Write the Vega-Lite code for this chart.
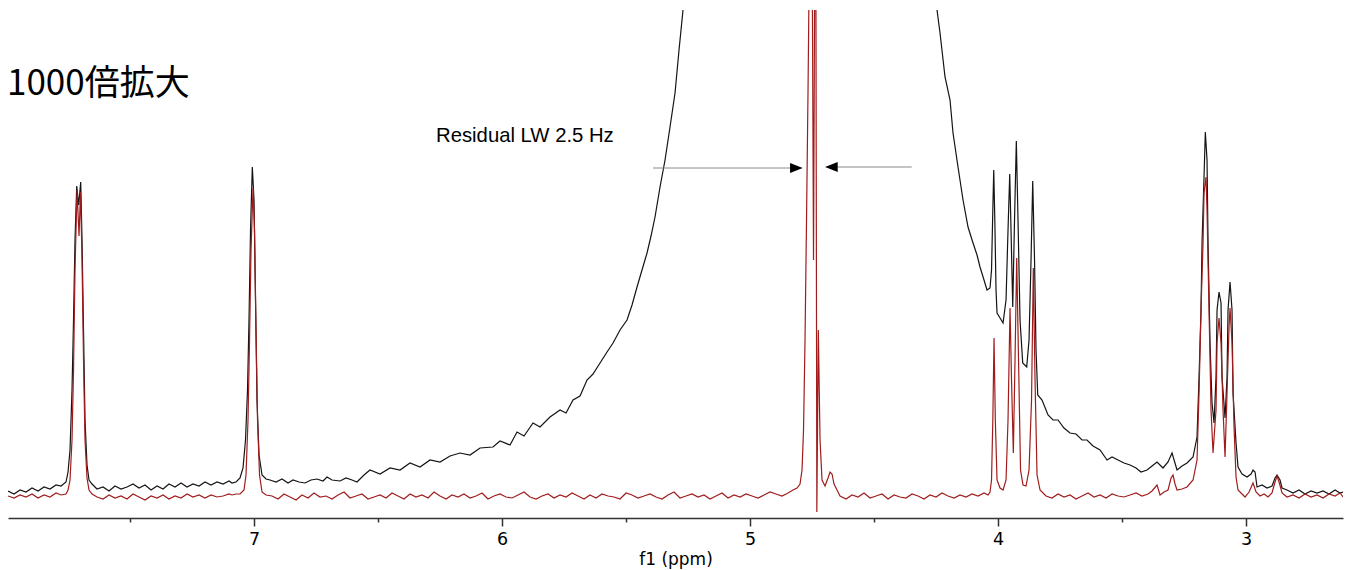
{
"$schema": "https://vega.github.io/schema/vega-lite/v6.json",
"width": 1335, "height": 508,
"autosize": {"type": "none"},
"padding": {"left": 8, "top": 10, "right": 8, "bottom": 52},
"config": {"view": {"stroke": null}, "axis": {"grid": false}},
"datasets": {
"spec": [
{"s":"k","x":7.9919,"y":27},{"s":"k","x":7.9677,"y":24},{"s":"k","x":7.9435,"y":28},{"s":"k","x":7.9194,"y":26},{"s":"k","x":7.8952,"y":30},{"s":"k","x":7.8710,"y":27},{"s":"k","x":7.8468,"y":31},{"s":"k","x":7.8226,"y":29},{"s":"k","x":7.7984,"y":33},{"s":"k","x":7.7782,"y":32},
{"s":"k","x":7.7581,"y":36},{"s":"k","x":7.7500,"y":46},{"s":"k","x":7.7419,"y":68},{"s":"k","x":7.7339,"y":128},{"s":"k","x":7.7278,"y":198},{"s":"k","x":7.7218,"y":278},{"s":"k","x":7.7149,"y":332},{"s":"k","x":7.7069,"y":313},{"s":"k","x":7.6988,"y":336},{"s":"k","x":7.6935,"y":278},{"s":"k","x":7.6875,"y":188},{"s":"k","x":7.6815,"y":98},{"s":"k","x":7.6734,"y":53},{"s":"k","x":7.6653,"y":38},{"s":"k","x":7.6532,"y":34},
{"s":"k","x":7.6331,"y":29},{"s":"k","x":7.6089,"y":31},{"s":"k","x":7.5847,"y":27},{"s":"k","x":7.5605,"y":32},{"s":"k","x":7.5363,"y":29},{"s":"k","x":7.5121,"y":31},{"s":"k","x":7.4879,"y":34},{"s":"k","x":7.4637,"y":30},{"s":"k","x":7.4395,"y":33},{"s":"k","x":7.4153,"y":28},{"s":"k","x":7.3911,"y":32},{"s":"k","x":7.3669,"y":29},{"s":"k","x":7.3427,"y":34},{"s":"k","x":7.3185,"y":31},{"s":"k","x":7.2944,"y":35},{"s":"k","x":7.2702,"y":31},{"s":"k","x":7.2460,"y":34},{"s":"k","x":7.2218,"y":32},{"s":"k","x":7.1976,"y":36},{"s":"k","x":7.1734,"y":33},{"s":"k","x":7.1492,"y":36},{"s":"k","x":7.1250,"y":34},{"s":"k","x":7.1008,"y":37},{"s":"k","x":7.0887,"y":35},
{"s":"k","x":7.0726,"y":36},{"s":"k","x":7.0565,"y":40},{"s":"k","x":7.0444,"y":50},{"s":"k","x":7.0343,"y":78},{"s":"k","x":7.0262,"y":128},{"s":"k","x":7.0202,"y":198},{"s":"k","x":7.0141,"y":288},{"s":"k","x":7.0069,"y":351},{"s":"k","x":7.0000,"y":318},{"s":"k","x":6.9940,"y":218},{"s":"k","x":6.9879,"y":118},{"s":"k","x":6.9798,"y":63},{"s":"k","x":6.9677,"y":43},{"s":"k","x":6.9516,"y":39},
{"s":"k","x":6.9355,"y":38},{"s":"k","x":6.9113,"y":36},{"s":"k","x":6.8871,"y":39},{"s":"k","x":6.8629,"y":35},{"s":"k","x":6.8427,"y":38},{"s":"k","x":6.8185,"y":36},{"s":"k","x":6.7944,"y":35},{"s":"k","x":6.7702,"y":38},{"s":"k","x":6.7460,"y":39},{"s":"k","x":6.7218,"y":37},{"s":"k","x":6.7056,"y":41},{"s":"k","x":6.6855,"y":38},{"s":"k","x":6.6532,"y":37},{"s":"k","x":6.6290,"y":40},{"s":"k","x":6.6048,"y":38},{"s":"k","x":6.5847,"y":36},{"s":"k","x":6.5565,"y":43},{"s":"k","x":6.5323,"y":48},{"s":"k","x":6.4919,"y":44},{"s":"k","x":6.4516,"y":50},{"s":"k","x":6.4113,"y":48},{"s":"k","x":6.3710,"y":55},{"s":"k","x":6.3306,"y":51},{"s":"k","x":6.2903,"y":58},{"s":"k","x":6.2500,"y":56},{"s":"k","x":6.2097,"y":62},{"s":"k","x":6.1694,"y":65},{"s":"k","x":6.1290,"y":63},{"s":"k","x":6.0887,"y":70},{"s":"k","x":6.0363,"y":71},{"s":"k","x":6.0081,"y":77},{"s":"k","x":5.9677,"y":73},{"s":"k","x":5.9395,"y":86},{"s":"k","x":5.9113,"y":82},{"s":"k","x":5.8750,"y":95},{"s":"k","x":5.8468,"y":91},{"s":"k","x":5.8065,"y":101},{"s":"k","x":5.7661,"y":108},{"s":"k","x":5.7419,"y":105},{"s":"k","x":5.7137,"y":118},{"s":"k","x":5.6855,"y":122},{"s":"k","x":5.6573,"y":138},{"s":"k","x":5.6331,"y":144},{"s":"k","x":5.6048,"y":155},{"s":"k","x":5.5766,"y":166},{"s":"k","x":5.5524,"y":175},{"s":"k","x":5.5242,"y":188},{"s":"k","x":5.4960,"y":198},{"s":"k","x":5.4758,"y":213},{"s":"k","x":5.4556,"y":231},{"s":"k","x":5.4355,"y":248},{"s":"k","x":5.4153,"y":265},{"s":"k","x":5.3992,"y":282},{"s":"k","x":5.3831,"y":301},{"s":"k","x":5.3629,"y":331},{"s":"k","x":5.3427,"y":358},{"s":"k","x":5.3226,"y":391},{"s":"k","x":5.3024,"y":425},{"s":"k","x":5.2863,"y":468},{"s":"k","x":5.2702,"y":508},{"s":"k","x":5.2500,"y":558},{"s":"k","x":5.2016,"y":818},{"s":"k","x":4.7581,"y":5000},{"s":"k","x":4.2944,"y":818},{"s":"k","x":4.2540,"y":538},{"s":"k","x":4.2460,"y":508},{"s":"k","x":4.2339,"y":485},{"s":"k","x":4.2137,"y":441},{"s":"k","x":4.1935,"y":418},{"s":"k","x":4.1815,"y":385},{"s":"k","x":4.1613,"y":351},{"s":"k","x":4.1411,"y":318},{"s":"k","x":4.1210,"y":291},{"s":"k","x":4.1008,"y":275},{"s":"k","x":4.0847,"y":263},{"s":"k","x":4.0726,"y":251},{"s":"k","x":4.0565,"y":238},{"s":"k","x":4.0444,"y":228},{"s":"k","x":4.0323,"y":230},{"s":"k","x":4.0262,"y":248},{"s":"k","x":4.0210,"y":308},{"s":"k","x":4.0173,"y":348},{"s":"k","x":4.0129,"y":298},{"s":"k","x":4.0081,"y":228},{"s":"k","x":4.0040,"y":205},{"s":"k","x":3.9919,"y":200},{"s":"k","x":3.9798,"y":195},{"s":"k","x":3.9677,"y":218},{"s":"k","x":3.9597,"y":288},{"s":"k","x":3.9528,"y":344},{"s":"k","x":3.9476,"y":288},{"s":"k","x":3.9407,"y":211},{"s":"k","x":3.9335,"y":298},{"s":"k","x":3.9262,"y":377},{"s":"k","x":3.9194,"y":298},{"s":"k","x":3.9113,"y":198},{"s":"k","x":3.9004,"y":155},{"s":"k","x":3.8843,"y":151},{"s":"k","x":3.8750,"y":178},{"s":"k","x":3.8669,"y":258},{"s":"k","x":3.8601,"y":337},{"s":"k","x":3.8528,"y":258},{"s":"k","x":3.8468,"y":168},{"s":"k","x":3.8399,"y":123},{"s":"k","x":3.8226,"y":118},{"s":"k","x":3.7984,"y":103},{"s":"k","x":3.7782,"y":98},{"s":"k","x":3.7581,"y":98},{"s":"k","x":3.7339,"y":90},{"s":"k","x":3.7097,"y":85},{"s":"k","x":3.6855,"y":84},{"s":"k","x":3.6613,"y":78},{"s":"k","x":3.6411,"y":78},{"s":"k","x":3.6169,"y":72},{"s":"k","x":3.5887,"y":68},{"s":"k","x":3.5605,"y":58},{"s":"k","x":3.5403,"y":61},{"s":"k","x":3.5161,"y":58},{"s":"k","x":3.4919,"y":55},{"s":"k","x":3.4677,"y":53},{"s":"k","x":3.4435,"y":50},{"s":"k","x":3.4234,"y":46},{"s":"k","x":3.3992,"y":48},{"s":"k","x":3.3790,"y":52},{"s":"k","x":3.3589,"y":56},{"s":"k","x":3.3347,"y":50},{"s":"k","x":3.3145,"y":56},{"s":"k","x":3.2984,"y":65},{"s":"k","x":3.2782,"y":48},{"s":"k","x":3.2581,"y":52},{"s":"k","x":3.2379,"y":55},{"s":"k","x":3.2137,"y":61},{"s":"k","x":3.1976,"y":81},{"s":"k","x":3.1895,"y":141},{"s":"k","x":3.1815,"y":208},{"s":"k","x":3.1774,"y":275},{"s":"k","x":3.1694,"y":341},{"s":"k","x":3.1641,"y":386},{"s":"k","x":3.1573,"y":358},{"s":"k","x":3.1532,"y":275},{"s":"k","x":3.1452,"y":175},{"s":"k","x":3.1371,"y":115},{"s":"k","x":3.1290,"y":95},{"s":"k","x":3.1210,"y":141},{"s":"k","x":3.1169,"y":208},{"s":"k","x":3.1089,"y":226},{"s":"k","x":3.1008,"y":215},{"s":"k","x":3.0968,"y":141},{"s":"k","x":3.0847,"y":100},{"s":"k","x":3.0766,"y":141},{"s":"k","x":3.0726,"y":208},{"s":"k","x":3.0645,"y":236},{"s":"k","x":3.0565,"y":208},{"s":"k","x":3.0524,"y":125},{"s":"k","x":3.0403,"y":75},{"s":"k","x":3.0323,"y":51},{"s":"k","x":3.0161,"y":44},{"s":"k","x":2.9960,"y":41},{"s":"k","x":2.9798,"y":44},{"s":"k","x":2.9718,"y":48},{"s":"k","x":2.9637,"y":46},{"s":"k","x":2.9556,"y":31},{"s":"k","x":2.9355,"y":33},{"s":"k","x":2.9153,"y":30},{"s":"k","x":2.8952,"y":32},{"s":"k","x":2.8831,"y":40},{"s":"k","x":2.8750,"y":43},{"s":"k","x":2.8629,"y":38},{"s":"k","x":2.8548,"y":30},{"s":"k","x":2.8347,"y":28},{"s":"k","x":2.8105,"y":25},{"s":"k","x":2.7863,"y":28},{"s":"k","x":2.7621,"y":24},{"s":"k","x":2.7379,"y":27},{"s":"k","x":2.7137,"y":25},{"s":"k","x":2.6895,"y":27},{"s":"k","x":2.6653,"y":24},{"s":"k","x":2.6411,"y":28},{"s":"k","x":2.6210,"y":25},{"s":"k","x":2.6089,"y":26},
{"s":"r","x":7.9919,"y":22},{"s":"r","x":7.9677,"y":20},{"s":"r","x":7.9435,"y":23},{"s":"r","x":7.9194,"y":21},{"s":"r","x":7.8952,"y":24},{"s":"r","x":7.8710,"y":20},{"s":"r","x":7.8468,"y":23},{"s":"r","x":7.8226,"y":21},{"s":"r","x":7.7984,"y":25},{"s":"r","x":7.7782,"y":23},
{"s":"r","x":7.7581,"y":24},{"s":"r","x":7.7500,"y":28},{"s":"r","x":7.7419,"y":38},{"s":"r","x":7.7339,"y":78},{"s":"r","x":7.7278,"y":148},{"s":"r","x":7.7218,"y":248},{"s":"r","x":7.7137,"y":328},{"s":"r","x":7.7056,"y":282},{"s":"r","x":7.6996,"y":326},{"s":"r","x":7.6935,"y":258},{"s":"r","x":7.6875,"y":158},{"s":"r","x":7.6815,"y":78},{"s":"r","x":7.6734,"y":40},{"s":"r","x":7.6653,"y":28},{"s":"r","x":7.6532,"y":24},
{"s":"r","x":7.6331,"y":21},{"s":"r","x":7.6089,"y":19},{"s":"r","x":7.5847,"y":23},{"s":"r","x":7.5605,"y":20},{"s":"r","x":7.5363,"y":22},{"s":"r","x":7.5121,"y":19},{"s":"r","x":7.4879,"y":24},{"s":"r","x":7.4637,"y":21},{"s":"r","x":7.4395,"y":18},{"s":"r","x":7.4153,"y":22},{"s":"r","x":7.3911,"y":20},{"s":"r","x":7.3669,"y":23},{"s":"r","x":7.3427,"y":19},{"s":"r","x":7.3185,"y":22},{"s":"r","x":7.2944,"y":20},{"s":"r","x":7.2702,"y":24},{"s":"r","x":7.2460,"y":21},{"s":"r","x":7.2218,"y":23},{"s":"r","x":7.1976,"y":20},{"s":"r","x":7.1734,"y":23},{"s":"r","x":7.1492,"y":21},{"s":"r","x":7.1250,"y":22},{"s":"r","x":7.1008,"y":24},{"s":"r","x":7.0887,"y":23},
{"s":"r","x":7.0726,"y":24},{"s":"r","x":7.0565,"y":24},{"s":"r","x":7.0403,"y":28},{"s":"r","x":7.0323,"y":43},{"s":"r","x":7.0242,"y":98},{"s":"r","x":7.0181,"y":178},{"s":"r","x":7.0121,"y":268},{"s":"r","x":7.0040,"y":330},{"s":"r","x":6.9980,"y":288},{"s":"r","x":6.9919,"y":188},{"s":"r","x":6.9859,"y":98},{"s":"r","x":6.9778,"y":43},{"s":"r","x":6.9677,"y":26},{"s":"r","x":6.9516,"y":23},
{"s":"r","x":6.9274,"y":22},{"s":"r","x":6.9032,"y":19},{"s":"r","x":6.8790,"y":24},{"s":"r","x":6.8548,"y":21},{"s":"r","x":6.8306,"y":18},{"s":"r","x":6.8065,"y":23},{"s":"r","x":6.7823,"y":20},{"s":"r","x":6.7581,"y":25},{"s":"r","x":6.7339,"y":21},{"s":"r","x":6.7097,"y":22},{"s":"r","x":6.6855,"y":19},{"s":"r","x":6.6613,"y":23},{"s":"r","x":6.6371,"y":26},{"s":"r","x":6.6129,"y":20},{"s":"r","x":6.5887,"y":22},{"s":"r","x":6.5645,"y":24},{"s":"r","x":6.5403,"y":19},{"s":"r","x":6.5161,"y":21},{"s":"r","x":6.4919,"y":23},{"s":"r","x":6.4677,"y":20},{"s":"r","x":6.4435,"y":25},{"s":"r","x":6.4194,"y":22},{"s":"r","x":6.3952,"y":19},{"s":"r","x":6.3710,"y":24},{"s":"r","x":6.3468,"y":21},{"s":"r","x":6.3226,"y":23},{"s":"r","x":6.2984,"y":20},{"s":"r","x":6.2742,"y":26},{"s":"r","x":6.2500,"y":22},{"s":"r","x":6.2258,"y":19},{"s":"r","x":6.2016,"y":23},{"s":"r","x":6.1774,"y":21},{"s":"r","x":6.1532,"y":24},{"s":"r","x":6.1290,"y":20},{"s":"r","x":6.1048,"y":22},{"s":"r","x":6.0806,"y":25},{"s":"r","x":6.0565,"y":19},{"s":"r","x":6.0323,"y":22},{"s":"r","x":6.0081,"y":24},{"s":"r","x":5.9839,"y":21},{"s":"r","x":5.9597,"y":20},{"s":"r","x":5.9355,"y":23},{"s":"r","x":5.9113,"y":26},{"s":"r","x":5.8871,"y":21},{"s":"r","x":5.8629,"y":19},{"s":"r","x":5.8387,"y":22},{"s":"r","x":5.8145,"y":24},{"s":"r","x":5.7903,"y":20},{"s":"r","x":5.7661,"y":23},{"s":"r","x":5.7419,"y":21},{"s":"r","x":5.7177,"y":25},{"s":"r","x":5.6935,"y":22},{"s":"r","x":5.6694,"y":19},{"s":"r","x":5.6452,"y":23},{"s":"r","x":5.6210,"y":20},{"s":"r","x":5.5968,"y":24},{"s":"r","x":5.5726,"y":22},{"s":"r","x":5.5484,"y":21},{"s":"r","x":5.5242,"y":19},{"s":"r","x":5.5000,"y":25},{"s":"r","x":5.4758,"y":23},{"s":"r","x":5.4516,"y":20},{"s":"r","x":5.4274,"y":22},{"s":"r","x":5.4032,"y":24},{"s":"r","x":5.3790,"y":21},{"s":"r","x":5.3548,"y":19},{"s":"r","x":5.3306,"y":23},{"s":"r","x":5.3065,"y":26},{"s":"r","x":5.2823,"y":20},{"s":"r","x":5.2581,"y":22},{"s":"r","x":5.2339,"y":24},{"s":"r","x":5.2097,"y":21},{"s":"r","x":5.1855,"y":23},{"s":"r","x":5.1613,"y":19},{"s":"r","x":5.1371,"y":22},{"s":"r","x":5.1129,"y":25},{"s":"r","x":5.0887,"y":20},{"s":"r","x":5.0645,"y":23},{"s":"r","x":5.0403,"y":21},{"s":"r","x":5.0161,"y":24},{"s":"r","x":4.9919,"y":22},{"s":"r","x":4.9677,"y":20},{"s":"r","x":4.9435,"y":23},{"s":"r","x":4.9194,"y":26},{"s":"r","x":4.8952,"y":24},{"s":"r","x":4.8710,"y":22},{"s":"r","x":4.8468,"y":25},
{"s":"r","x":4.8266,"y":28},{"s":"r","x":4.8105,"y":30},{"s":"r","x":4.7984,"y":34},{"s":"r","x":4.7903,"y":48},{"s":"r","x":4.7843,"y":88},{"s":"r","x":4.7782,"y":178},{"s":"r","x":4.7722,"y":298},{"s":"r","x":4.7661,"y":428},{"s":"r","x":4.7601,"y":578},{"s":"r","x":4.7500,"y":598},{"s":"r","x":4.7440,"y":258},{"s":"r","x":4.7387,"y":578},{"s":"r","x":4.7347,"y":578},{"s":"r","x":4.7306,"y":6},{"s":"r","x":4.7246,"y":188},{"s":"r","x":4.7177,"y":78},{"s":"r","x":4.7097,"y":38},{"s":"r","x":4.6976,"y":32},{"s":"r","x":4.6855,"y":40},{"s":"r","x":4.6774,"y":46},{"s":"r","x":4.6694,"y":44},{"s":"r","x":4.6613,"y":34},{"s":"r","x":4.6492,"y":28},
{"s":"r","x":4.6371,"y":22},{"s":"r","x":4.6129,"y":19},{"s":"r","x":4.5887,"y":23},{"s":"r","x":4.5645,"y":21},{"s":"r","x":4.5403,"y":25},{"s":"r","x":4.5161,"y":20},{"s":"r","x":4.4919,"y":22},{"s":"r","x":4.4677,"y":24},{"s":"r","x":4.4435,"y":19},{"s":"r","x":4.4194,"y":23},{"s":"r","x":4.3952,"y":21},{"s":"r","x":4.3710,"y":20},{"s":"r","x":4.3468,"y":24},{"s":"r","x":4.3226,"y":22},{"s":"r","x":4.2984,"y":19},{"s":"r","x":4.2742,"y":23},{"s":"r","x":4.2500,"y":21},{"s":"r","x":4.2258,"y":25},{"s":"r","x":4.2016,"y":22},{"s":"r","x":4.1774,"y":20},{"s":"r","x":4.1532,"y":23},{"s":"r","x":4.1290,"y":21},{"s":"r","x":4.1048,"y":24},{"s":"r","x":4.0806,"y":22},{"s":"r","x":4.0565,"y":25},{"s":"r","x":4.0403,"y":23},
{"s":"r","x":4.0323,"y":26},{"s":"r","x":4.0262,"y":38},{"s":"r","x":4.0210,"y":98},{"s":"r","x":4.0161,"y":180},{"s":"r","x":4.0109,"y":98},{"s":"r","x":4.0040,"y":38},{"s":"r","x":3.9919,"y":30},{"s":"r","x":3.9798,"y":28},{"s":"r","x":3.9677,"y":38},{"s":"r","x":3.9597,"y":98},{"s":"r","x":3.9516,"y":210},{"s":"r","x":3.9456,"y":138},{"s":"r","x":3.9383,"y":65},{"s":"r","x":3.9315,"y":158},{"s":"r","x":3.9247,"y":260},{"s":"r","x":3.9173,"y":158},{"s":"r","x":3.9093,"y":48},{"s":"r","x":3.8992,"y":33},{"s":"r","x":3.8871,"y":32},{"s":"r","x":3.8750,"y":48},{"s":"r","x":3.8649,"y":118},{"s":"r","x":3.8577,"y":250},{"s":"r","x":3.8508,"y":138},{"s":"r","x":3.8427,"y":43},{"s":"r","x":3.8306,"y":28},
{"s":"r","x":3.8065,"y":22},{"s":"r","x":3.7823,"y":20},{"s":"r","x":3.7581,"y":24},{"s":"r","x":3.7339,"y":21},{"s":"r","x":3.7097,"y":23},{"s":"r","x":3.6855,"y":19},{"s":"r","x":3.6613,"y":22},{"s":"r","x":3.6371,"y":25},{"s":"r","x":3.6129,"y":21},{"s":"r","x":3.5887,"y":23},{"s":"r","x":3.5645,"y":20},{"s":"r","x":3.5403,"y":24},{"s":"r","x":3.5161,"y":22},{"s":"r","x":3.4919,"y":21},{"s":"r","x":3.4677,"y":23},{"s":"r","x":3.4435,"y":25},{"s":"r","x":3.4194,"y":22},{"s":"r","x":3.3952,"y":24},
{"s":"r","x":3.3790,"y":27},{"s":"r","x":3.3589,"y":33},{"s":"r","x":3.3468,"y":23},{"s":"r","x":3.3306,"y":26},{"s":"r","x":3.3145,"y":28},{"s":"r","x":3.3024,"y":40},{"s":"r","x":3.2944,"y":43},{"s":"r","x":3.2863,"y":34},{"s":"r","x":3.2782,"y":28},{"s":"r","x":3.2581,"y":29},{"s":"r","x":3.2379,"y":31},{"s":"r","x":3.2137,"y":38},{"s":"r","x":3.1976,"y":58},{"s":"r","x":3.1895,"y":125},{"s":"r","x":3.1815,"y":208},{"s":"r","x":3.1734,"y":275},{"s":"r","x":3.1694,"y":325},{"s":"r","x":3.1613,"y":341},{"s":"r","x":3.1573,"y":308},{"s":"r","x":3.1492,"y":208},{"s":"r","x":3.1411,"y":108},{"s":"r","x":3.1331,"y":65},{"s":"r","x":3.1210,"y":108},{"s":"r","x":3.1169,"y":175},{"s":"r","x":3.1089,"y":200},{"s":"r","x":3.1008,"y":175},{"s":"r","x":3.0927,"y":108},{"s":"r","x":3.0847,"y":61},{"s":"r","x":3.0766,"y":125},{"s":"r","x":3.0685,"y":191},{"s":"r","x":3.0645,"y":210},{"s":"r","x":3.0565,"y":175},{"s":"r","x":3.0484,"y":91},{"s":"r","x":3.0403,"y":41},{"s":"r","x":3.0323,"y":28},{"s":"r","x":3.0161,"y":24},{"s":"r","x":3.0040,"y":21},{"s":"r","x":2.9879,"y":26},{"s":"r","x":2.9718,"y":35},{"s":"r","x":2.9597,"y":26},{"s":"r","x":2.9435,"y":22},{"s":"r","x":2.9274,"y":24},{"s":"r","x":2.9113,"y":21},{"s":"r","x":2.8952,"y":25},{"s":"r","x":2.8831,"y":36},{"s":"r","x":2.8750,"y":42},{"s":"r","x":2.8669,"y":36},{"s":"r","x":2.8548,"y":25},{"s":"r","x":2.8347,"y":21},{"s":"r","x":2.8105,"y":23},{"s":"r","x":2.7863,"y":20},{"s":"r","x":2.7621,"y":24},{"s":"r","x":2.7379,"y":21},{"s":"r","x":2.7137,"y":23},{"s":"r","x":2.6895,"y":20},{"s":"r","x":2.6653,"y":24},{"s":"r","x":2.6411,"y":22},{"s":"r","x":2.6210,"y":25},{"s":"r","x":2.6089,"y":21}
],
"arrows": [{"x":5.3911,"x2":4.8145,"y":350},{"x":4.6694,"x2":4.3480,"y":351}],
"heads": [{"x":4.8131,"y":350,"d":"right"},{"x":4.6720,"y":351,"d":"left"}],
"labels": [
{"x":7.996,"y":423,"t":"1000倍拡大","k":"title"},
{"x":6.2661,"y":376,"t":"Residual LW 2.5 Hz","k":"note"}
]
},
"resolve": {"axis": {"x": "independent"}},
"layer": [
{
"data": {"name": "spec"},
"transform": [{"filter": "datum.s === 'k'"}],
"mark": {"type": "line", "color": "#141414", "strokeWidth": 1.2, "clip": true, "interpolate": "linear"},
"encoding": {
"x": {"field": "x", "type": "quantitative", "scale": {"domain": [2.609, 7.992], "reverse": true, "nice": false, "zero": false},
"axis": {"orient": "bottom", "values": [7, 6, 5, 4, 3], "format": "d", "tickSize": 8, "tickWidth": 1.5, "tickColor": "#333", "domainColor": "#333", "domainWidth": 1.5, "labelFont": "DejaVu Sans", "labelFontSize": 17.5, "labelColor": "#000", "labelPadding": 4, "labelFlush": false, "title": "f1 (ppm)", "titleFont": "DejaVu Sans", "titleFontSize": 17, "titleFontWeight": "normal", "titleColor": "#000", "titlePadding": 4}},
"y": {"field": "y", "type": "quantitative", "scale": {"domain": [0, 508], "nice": false, "zero": false}, "axis": null}
}
},
{
"data": {"name": "spec"},
"transform": [{"filter": "datum.s === 'r'"}],
"mark": {"type": "line", "color": "#a01c1c", "strokeWidth": 1.2, "clip": true},
"encoding": {
"x": {"field": "x", "type": "quantitative", "scale": {"domain": [2.609, 7.992], "reverse": true, "nice": false, "zero": false},
"axis": {"orient": "bottom", "values": [7.5, 6.5, 5.5, 4.5, 3.5], "labels": false, "tickSize": 4, "tickWidth": 1.5, "tickColor": "#333", "domain": false, "title": null}},
"y": {"field": "y", "type": "quantitative", "scale": {"domain": [0, 508], "nice": false, "zero": false}, "axis": null}
}
},
{
"data": {"name": "arrows"},
"mark": {"type": "rule", "color": "#8a8a8a", "strokeWidth": 1},
"encoding": {
"x": {"field": "x", "type": "quantitative", "axis": null},
"x2": {"field": "x2"},
"y": {"field": "y", "type": "quantitative", "axis": null}
}
},
{
"data": {"name": "heads"},
"mark": {"type": "point", "filled": true, "size": 161, "opacity": 1, "strokeWidth": 0},
"encoding": {
"x": {"field": "x", "type": "quantitative", "axis": null},
"y": {"field": "y", "type": "quantitative", "axis": null},
"shape": {"field": "d", "type": "nominal", "legend": null, "scale": {"domain": ["right", "left"], "range": ["M1,0L-1,-0.79L-1,0.79Z", "M-1,0L1,-0.79L1,0.79Z"]}},
"color": {"value": "#000"}
}
},
{
"data": {"name": "labels"},
"transform": [{"filter": "datum.k === 'title'"}],
"mark": {"type": "text", "align": "left", "baseline": "alphabetic", "font": "Noto Sans CJK JP", "fontSize": 35, "color": "#000"},
"encoding": {
"x": {"field": "x", "type": "quantitative", "axis": null},
"y": {"field": "y", "type": "quantitative", "axis": null},
"text": {"field": "t"}
}
},
{
"data": {"name": "labels"},
"transform": [{"filter": "datum.k === 'note'"}],
"mark": {"type": "text", "align": "left", "baseline": "alphabetic", "font": "Liberation Sans", "fontSize": 20.3, "color": "#000"},
"encoding": {
"x": {"field": "x", "type": "quantitative", "axis": null},
"y": {"field": "y", "type": "quantitative", "axis": null},
"text": {"field": "t"}
}
}
]
}
